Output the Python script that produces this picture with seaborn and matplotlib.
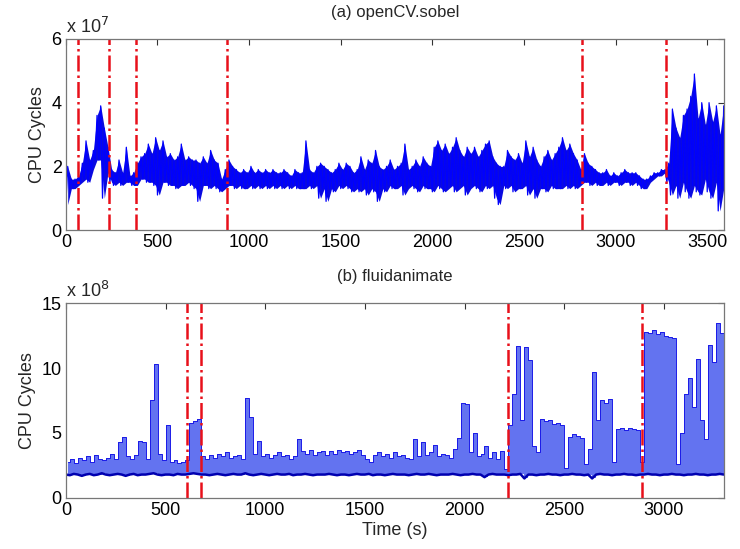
import numpy as np
import pandas as pd
import seaborn as sns
import matplotlib.pyplot as plt

# (a) openCV.sobel -- CPU cycles in units of 1e7, low / high of the trace read every 20 s
sobel_t = np.arange(0, 3600, 20)
sobel_lo = [0.8, 1.3, 1.3, 1.4, 1.5,  1.6, 1.5, 1.9, 2.2, 2.2,
            1.0, 1.8, 1.5, 1.4, 1.5,  1.4, 1.5, 1.5, 1.4, 1.4,
            1.6, 1.6, 1.5, 1.5, 1.4,  1.1, 1.5, 1.5, 1.4, 1.4,
            1.3, 1.4, 1.4, 1.5, 1.4,  1.3, 0.9, 1.4, 1.4, 1.3,
            1.4, 1.3, 1.2, 1.3, 1.4,  1.4, 1.3, 1.4, 1.3, 1.3,
            1.4, 1.3, 1.4, 1.3, 1.4,  1.3, 1.4, 1.3, 1.4, 1.3,
            1.4, 1.3, 1.4, 1.3, 1.3,  1.3, 1.4, 1.3, 1.4, 1.0,
            1.3, 0.9, 1.3, 1.2, 1.4,  1.3, 1.4, 1.3, 1.2, 1.3,
            1.2, 1.3, 1.1, 1.3, 1.2,  0.9, 1.3, 1.2, 1.4, 1.3,
            1.3, 1.4, 1.1, 1.3, 1.4,  1.3, 1.2, 1.4, 1.3, 1.3,
            1.2, 1.4, 1.3, 1.2, 1.3,  1.4, 1.2, 1.3, 1.4, 1.1,
            1.3, 1.4, 1.3, 1.2, 1.4,  1.3, 1.4, 1.0, 0.8, 1.4,
            1.3, 1.4, 1.2, 1.3, 1.3,  1.4, 1.1, 1.3, 1.0, 1.3,
            1.3, 1.2, 1.4, 1.3, 1.3,  1.3, 1.4, 1.3, 1.4, 1.3,
            1.4, 1.5, 1.5, 1.4, 1.5,  1.4, 1.4, 1.5, 1.4, 1.5,
            1.5, 1.4, 1.5, 1.5, 1.4,  1.5, 1.4, 1.3, 1.3, 1.5,
            1.6, 1.7, 1.7, 1.8, 1.5,  1.1, 1.4, 1.0, 1.5, 1.2,
            1.0, 1.4, 1.2, 1.1, 1.6,  1.2, 1.0, 1.5, 0.6, 1.3]
sobel_hi = [2.0, 1.6, 1.6, 1.7, 2.1,  2.8, 2.2, 2.5, 3.6, 3.9,
            3.2, 2.6, 1.9, 1.8, 2.2,  1.8, 2.6, 1.7, 1.8, 2.1,
            2.3, 2.4, 2.7, 2.4, 2.9,  2.5, 2.8, 2.3, 2.4, 2.2,
            2.3, 2.7, 2.2, 2.3, 2.2,  2.2, 2.1, 2.3, 2.1, 2.5,
            2.2, 2.1, 1.6, 1.9, 2.2,  2.0, 1.9, 1.8, 1.9, 1.8,
            2.0, 1.8, 1.9, 1.8, 1.9,  1.8, 1.9, 1.8, 1.8, 1.9,
            1.8, 1.7, 1.9, 1.8, 1.8,  2.8, 1.9, 1.8, 2.0, 2.1,
            2.0, 1.9, 1.8, 1.9, 2.1,  1.9, 2.1, 2.0, 1.8, 1.9,
            2.3, 1.9, 2.2, 2.1, 2.5,  2.0, 1.9, 2.0, 2.2, 1.9,
            2.0, 2.1, 2.7, 1.9, 2.0,  2.2, 2.0, 2.3, 2.1, 2.0,
            2.6, 2.8, 2.5, 2.7, 2.4,  2.6, 2.9, 2.5, 2.3, 2.6,
            2.4, 2.6, 2.3, 2.5, 2.7,  2.8, 2.3, 2.1, 2.0, 2.0,
            2.5, 2.3, 2.2, 2.4, 2.1,  2.8, 2.3, 2.6, 2.2, 2.0,
            2.3, 2.5, 2.2, 2.4, 2.6,  2.9, 2.5, 2.7, 2.4, 2.2,
            1.9, 2.4, 2.1, 2.0, 1.9,  1.8, 1.8, 1.9, 1.7, 1.8,
            1.7, 1.8, 1.9, 1.8, 1.8,  1.8, 1.7, 1.6, 1.6, 1.7,
            1.8, 1.8, 1.9, 1.9, 2.1,  3.8, 3.2, 2.9, 3.6, 3.8,
            4.2, 4.9, 3.5, 4.0, 3.3,  4.0, 3.4, 3.9, 3.0, 3.9]
sobel_phases = [65, 234, 382, 882, 2819, 3277]

# (b) fluidanimate -- CPU cycles in units of 1e8, low / high every 20 s
fluid_t = np.arange(0, 3320, 20)
fluid_lo = [1.8, 1.75, 1.85, 1.8, 1.7,  1.8, 1.85, 1.75, 1.8, 1.9,
            1.8, 1.75, 1.8, 1.85, 1.8,  1.7, 1.8, 1.85, 1.75, 1.8,
            1.8, 1.85, 1.9, 1.8, 1.75,  1.8, 1.8, 1.75, 1.85, 1.8,
            1.8, 1.85, 1.9, 1.85, 1.8,  1.8, 1.75, 1.8, 1.85, 1.8,
            1.75, 1.8, 1.85, 1.8, 1.8,  1.9, 1.8, 1.75, 1.8, 1.85,
            1.8, 1.75, 1.8, 1.85, 1.8,  1.8, 1.85, 1.75, 1.8, 1.8,
            1.85, 1.8, 1.75, 1.8, 1.8,  1.8, 1.85, 1.8, 1.75, 1.8,
            1.8, 1.75, 1.8, 1.85, 1.8,  1.8, 1.85, 1.75, 1.8, 1.8,
            1.75, 1.8, 1.85, 1.8, 1.8,  1.8, 1.75, 1.8, 1.85, 1.8,
            1.8, 1.85, 1.8, 1.75, 1.8,  1.8, 1.8, 1.85, 1.8, 1.75,
            1.8, 1.8, 1.85, 1.8, 1.8,  1.6, 1.8, 1.85, 1.8, 1.8,
            1.8, 1.75, 1.8, 1.8, 1.85,  1.5, 1.8, 1.8, 1.75, 1.8,
            1.8, 1.85, 1.8, 1.8, 1.75,  1.8, 1.8, 1.85, 1.8, 1.8,
            1.75, 1.8, 1.5, 1.8, 1.85,  1.8, 1.8, 1.75, 1.8, 1.8,
            1.85, 1.8, 1.8, 1.75, 1.8,  1.8, 1.85, 1.8, 1.8, 1.75,
            1.8, 1.8, 1.85, 1.8, 1.8,  1.75, 1.8, 1.8, 1.85, 1.8,
            1.8, 1.75, 1.8, 1.8, 1.85,  1.8]
fluid_hi = [2.8, 3.0, 2.7, 3.1, 2.9,  3.2, 2.8, 3.3, 3.0, 2.9,
            3.1, 3.4, 3.0, 4.3, 4.7,  3.2, 3.0, 3.3, 4.4, 4.3,
            3.0, 7.5, 10.3, 3.4, 2.9,  5.6, 2.8, 2.9, 2.7, 2.8,
            2.9, 5.8, 5.9, 6.1, 3.2,  3.0, 3.3, 3.1, 3.4, 3.2,
            3.5, 3.1, 3.2, 3.3, 3.0,  7.7, 6.2, 3.4, 4.4, 3.2,
            3.4, 3.1, 3.3, 3.5, 3.2,  3.3, 3.0, 3.2, 4.5, 3.6,
            3.4, 3.7, 3.3, 3.5, 3.6,  3.3, 3.6, 3.4, 3.7, 3.5,
            3.6, 3.4, 3.5, 3.7, 3.3,  3.0, 2.8, 3.3, 3.5, 3.2,
            3.4, 3.1, 3.5, 3.2, 3.3,  3.1, 3.0, 4.5, 3.2, 4.3,
            3.3, 3.5, 4.1, 3.2, 3.4,  3.3, 3.1, 3.8, 4.6, 7.3,
            7.2, 3.5, 5.0, 3.2, 3.4,  4.0, 3.1, 3.5, 3.0, 3.6,
            2.2, 5.6, 8.0, 11.7, 6.0,  11.6, 10.6, 4.0, 3.5, 6.1,
            5.9, 6.0, 5.7, 5.8, 5.6,  2.3, 4.7, 4.9, 4.8, 4.6,
            2.6, 3.8, 9.7, 6.0, 7.5,  7.3, 7.6, 2.8, 5.3, 5.4,
            5.2, 5.4, 5.3, 5.2, 2.8,  12.8, 12.7, 12.9, 12.6, 12.8,
            12.5, 12.4, 12.3, 2.6, 5.0,  8.0, 9.2, 7.0, 10.7, 6.0,
            4.5, 11.8, 10.5, 13.5, 12.7,  8.0]
fluid_phases = [607, 678, 2218, 2890]


def trace(t, lo, hi):
    # the trace swings between the low and high readings
    df = pd.concat([pd.DataFrame({'t': t, 'v': lo}),
                    pd.DataFrame({'t': t + 10, 'v': hi})])
    return df.sort_values('t')


sns.set_style('white')
plt.rcParams['font.family'] = ['Liberation Sans', 'DejaVu Sans']

fig = plt.figure(figsize=(7.4, 5.49), dpi=100)
ax1 = fig.add_axes([0.089, 0.581, 0.889, 0.348])
ax2 = fig.add_axes([0.089, 0.093, 0.889, 0.355])

# top: dense band, drawn dark
ax1.fill_between(sobel_t + 10, sobel_lo, sobel_hi, color='#0a0ae0', lw=0)
sns.lineplot(data=trace(sobel_t, sobel_lo, sobel_hi), x='t', y='v', ax=ax1,
             color='#0000ff', linewidth=0.9, estimator=None, sort=False)

# bottom: fast swings read as a lighter fill above a dark baseline
ax2.fill_between(fluid_t + 10, fluid_lo, fluid_hi, step='mid',
                 color='#6373f0', lw=0)
sns.lineplot(x=fluid_t + 10, y=fluid_hi, ax=ax2, color='#1a1ae8',
             linewidth=0.7, estimator=None, drawstyle='steps-mid')
sns.lineplot(x=fluid_t, y=fluid_lo, ax=ax2, color='#0000b0', linewidth=1.8,
             estimator=None)

panels = [
    (ax1, sobel_phases, 3590, 6, [0, 2, 4, 6], '(a) openCV.sobel', r'x 10$^7$'),
    (ax2, fluid_phases, 3300, 15, [0, 5, 10, 15], '(b) fluidanimate', r'x 10$^8$'),
]

for ax, phases, xmax, ymax, yt, title, scale in panels:
    for p in phases:
        ax.axvline(p, color='#e8101a', linestyle='-.', linewidth=1.8)
    ax.set_xlim(0, xmax)
    ax.set_ylim(0, ymax)
    ax.set_yticks(yt)
    ax.set_xticks(np.arange(0, xmax + 1, 500))
    ax.tick_params(direction='in', length=4, width=0.8, top=True, right=True,
                   labelsize=13, colors='#333333', labelcolor='black', pad=3)
    for s in ax.spines.values():
        s.set_color('#777777')
        s.set_linewidth(0.9)
    ax.set_ylabel('CPU Cycles', fontsize=13, labelpad=4)
    ax.set_xlabel('')
    ax.set_title(title, fontsize=12, pad=16)
    ax.text(0.0, 1.01, scale, transform=ax.transAxes, fontsize=13,
            ha='left', va='bottom')

ax2.set_xlabel('Time (s)', fontsize=13, labelpad=2)

fig.savefig('out.png', dpi=100)
